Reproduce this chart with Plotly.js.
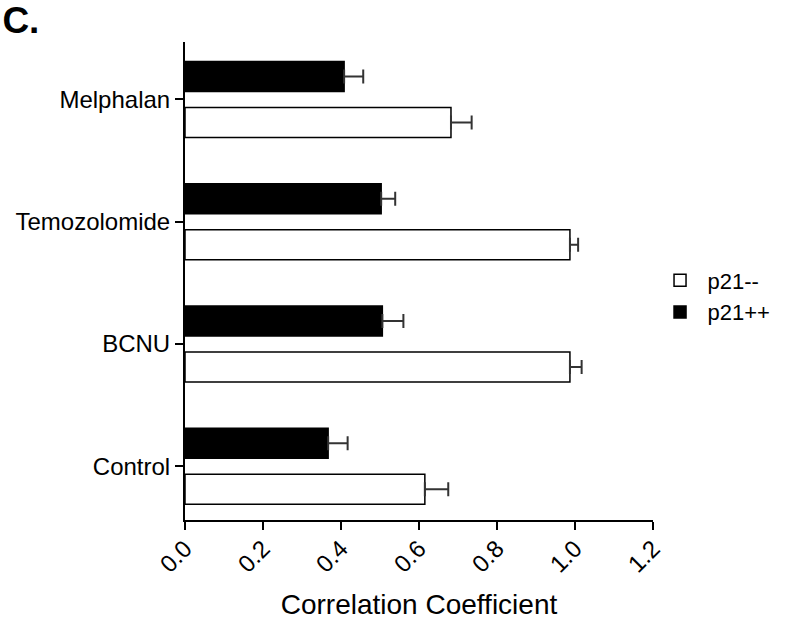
<!DOCTYPE html>
<html>
<head>
<meta charset="utf-8">
<script src="https://cdn.plot.ly/plotly-3.0.1.min.js"></script>
<style>html,body{margin:0;padding:0;background:#fff;}#chart{width:792px;height:620px;}</style>
</head>
<body>
<div id="chart"></div>
<script>
const categories = ["Control", "BCNU", "Temozolomide", "Melphalan"];
const p21MinusValues = [0.615, 0.987, 0.987, 0.682];
const p21MinusErrors = [0.060, 0.030, 0.021, 0.053];
const p21PlusValues = [0.367, 0.506, 0.503, 0.408];
const p21PlusErrors = [0.050, 0.054, 0.036, 0.049];
const xTickValues = [0, 0.2, 0.4, 0.6, 0.8, 1.0, 1.2];
const zeros = categories.map(() => 0);

const FONT = "Arial, 'Liberation Sans', sans-serif";

const traces = [
  {
    type: "bar", orientation: "h", name: "p21--",
    y: categories, x: p21MinusValues,
    marker: {color: "#ffffff", line: {color: "#000000", width: 1.5}},
    error_x: {type: "data", symmetric: false, array: p21MinusErrors, arrayminus: zeros,
              color: "#333333", thickness: 2, width: 7}
  },
  {
    type: "bar", orientation: "h", name: "p21++",
    y: categories, x: p21PlusValues,
    marker: {color: "#000000", line: {color: "#000000", width: 1.5}},
    error_x: {type: "data", symmetric: false, array: p21PlusErrors, arrayminus: zeros,
              color: "#333333", thickness: 2, width: 7}
  }
];

const layout = {
  width: 792, height: 620,
  margin: {l: 185, r: 139, t: 42, b: 100},
  paper_bgcolor: "#ffffff", plot_bgcolor: "#ffffff",
  font: {family: FONT, color: "#000000"},
  barmode: "group", bargap: 0.247, bargroupgap: 0.35,
  showlegend: true,
  legend: {x: 0.999, xanchor: "left", y: 0.4676, yanchor: "middle",
           traceorder: "normal", font: {size: 22, family: FONT}, itemwidth: 45},
  title: {text: "<b>C.</b>", x: 0.003, xanchor: "left", xref: "container",
          y: 0.988, yanchor: "top", yref: "container",
          font: {size: 37, family: FONT, color: "#000000"}},
  xaxis: {
    range: [0, 1.2], tickvals: xTickValues, tickformat: ".1f", tickangle: -45,
    showgrid: false, zeroline: false, showline: true, linecolor: "#000000", linewidth: 2,
    ticks: "outside", ticklen: 8, tickwidth: 2, tickcolor: "#000000",
    ticklabelstandoff: -5,
    tickfont: {size: 24, family: FONT, color: "#000000"},
    automargin: false,
    title: {text: "Correlation Coefficient", font: {size: 28, family: FONT, color: "#000000"}, standoff: 18}
  },
  yaxis: {
    type: "category", categoryorder: "array", categoryarray: categories,
    range: [-0.44, 3.47],
    showgrid: false, zeroline: false, showline: true, linecolor: "#000000", linewidth: 2,
    ticks: "outside", ticklen: 8, tickwidth: 2, tickcolor: "#000000",
    tickfont: {size: 24, family: FONT, color: "#000000"},
    automargin: false
  }
};

Plotly.newPlot("chart", traces, layout, {displayModeBar: false, staticPlot: true});
</script>
</body>
</html>
